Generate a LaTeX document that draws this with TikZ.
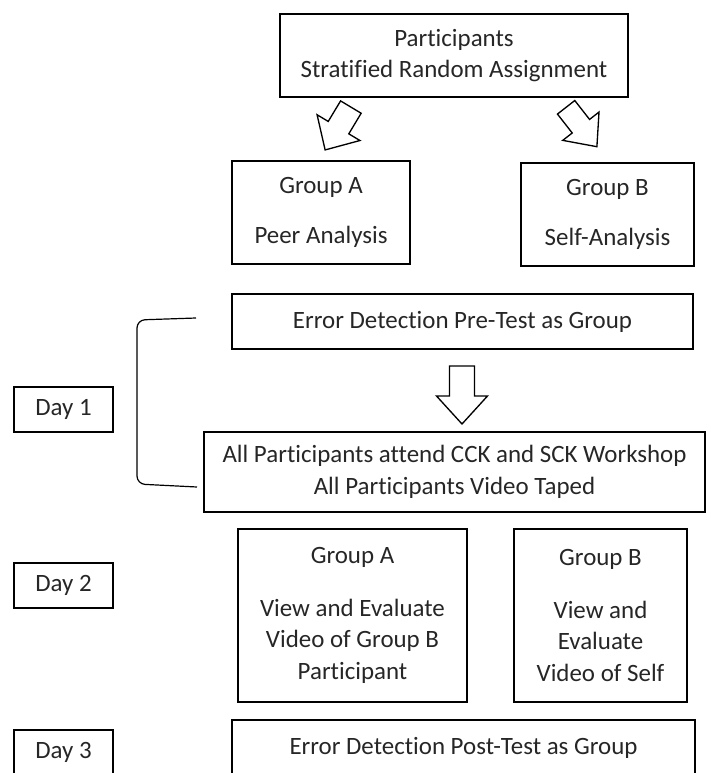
\documentclass[tikz,border=0pt]{standalone}
\usepackage{fontspec}
\setmainfont{Carlito}[Ligatures=NoCommon]
\usepackage{tikz}
\usepackage{xcolor}
\tikzset{every picture/.style={line width=0.75pt}}
\tikzset{
  stepbox/.style={draw, line width=1.1pt, align=center, inner sep=0pt,
    text=black!85, font=\fontsize{18.7}{23.5}\selectfont},
  daybox/.style={stepbox, minimum width=74.25pt, minimum height=33.75pt},
  blockarrow/.style={draw, line width=1pt, line join=miter, fill=white}
}

\begin{document}
\begin{tikzpicture}[x=0.75pt,y=0.75pt,yscale=-1,xscale=1]
\clip (0,0) rectangle (710,773);

% top box
\node [stepbox, minimum width=261pt, minimum height=62.25pt] (part) at (454,55.5)
  {Participants\\Stratified Random Assignment};

% groups
\node [stepbox, minimum width=133.5pt, minimum height=77.25pt] (grpA) at (321,212.5)
  {Group A\\[14.5pt]Peer Analysis};
\node [stepbox, minimum width=129.75pt, minimum height=77.25pt] (grpB) at (607.5,214.5)
  {Group B\\[14.5pt]Self-Analysis};

% block arrows from the top box
\draw [blockarrow, shift={(338,128.5)}, rotate=121]
  (-25,-12) -- (-1,-12) -- (-1,-25) -- (25,0) -- (-1,25) -- (-1,12) -- (-25,12) -- cycle;
\draw [blockarrow, shift={(581.5,127)}, rotate=52]
  (-25,-11) -- (-1,-11) -- (-1,-23) -- (25,0) -- (-1,23) -- (-1,11) -- (-25,11) -- cycle;

% day 1
\node [stepbox, minimum width=345.75pt, minimum height=41.25pt] (pretest) at (462.5,321.5)
  {Error Detection Pre-Test as Group};
\draw [blockarrow, shift={(462,395)}, rotate=90]
  (-29,-12.5) -- (1,-12.5) -- (1,-25.5) -- (29,0) -- (1,25.5) -- (1,12.5) -- (-29,12.5) -- cycle;
\node [stepbox, minimum width=375.75pt, minimum height=60pt] (workshop) at (454.5,472)
  {All Participants attend CCK and SCK Workshop\\All Participants Video Taped};

% bracket
\draw [line width=0.9pt, rounded corners=6] (196,318) -- (137,320) -- (137,484) -- (197,487);

% day 2
\node [stepbox, minimum width=171.75pt, minimum height=129.75pt] (viewA) at (352.5,615.5)
  {Group A\\[16pt]View and Evaluate\\Video of Group B\\Participant};
\node [stepbox, minimum width=129.75pt, minimum height=129.75pt] (viewB) at (600.5,615.5)
  {Group B\\[16pt]View and\\Evaluate\\Video of Self};

% day 3
\node [stepbox, minimum width=347.25pt, minimum height=41.25pt] (posttest) at (463.5,747.5)
  {Error Detection Post-Test as Group};

% day labels
\node [daybox] (day1) at (63.5,409.5) {Day 1};
\node [daybox] (day2) at (63.5,585.5) {Day 2};
\node [daybox] (day3) at (63.5,752.5) {Day 3};

\end{tikzpicture}
\end{document}
